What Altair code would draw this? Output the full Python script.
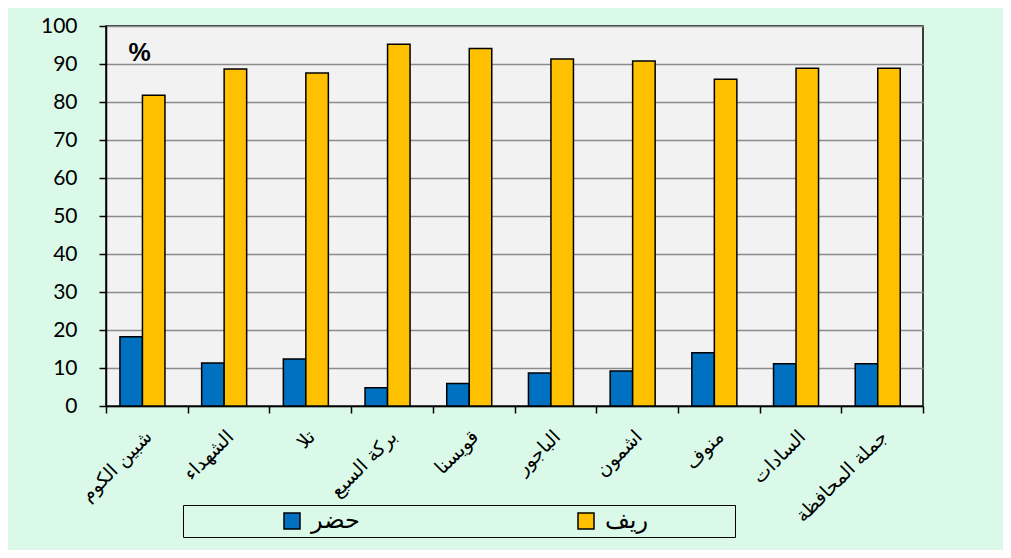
import altair as alt
import pandas as pd

regions = ["شبين الكوم", "الشهداء", "تلا", "بركة السبع", "قويسنا",
           "الباجور", "اشمون", "منوف", "السادات", "جملة المحافظة"]
urban = [18.2, 11.3, 12.4, 4.8, 5.9, 8.7, 9.2, 14.0, 11.1, 11.1]
rural = [81.8, 88.7, 87.6, 95.2, 94.1, 91.3, 90.8, 86.0, 88.9, 88.9]
series = ["حضر", "ريف"]
colors = ["#0070c0", "#ffc000"]
y_ticks = list(range(0, 101, 10))

rows = []
for i, r in enumerate(regions):
    rows.append({"region": r, "type": series[0], "value": urban[i]})
    rows.append({"region": r, "type": series[1], "value": rural[i]})
df = pd.DataFrame(rows)

chart = alt.Chart(df).mark_bar(stroke="black", strokeWidth=1.5).encode(
    x=alt.X("region:N", sort=regions,
            scale=alt.Scale(paddingInner=0, paddingOuter=0),
            axis=alt.Axis(title=None, labelAngle=-45, labelFont="DejaVu Sans",
                          labelFontSize=19, labelColor="black", tickBand="extent",
                          tickSize=7, tickColor="black", tickWidth=1.5,
                          domainColor="black", domainWidth=1.5, labelPadding=14,
                          labelOffset=-5, grid=False)),
    xOffset=alt.XOffset("type:N", sort=series,
                        scale=alt.Scale(paddingInner=0, paddingOuter=0.815, align=0.38)),
    y=alt.Y("value:Q", scale=alt.Scale(domain=[0, 100], nice=False),
            axis=alt.Axis(values=y_ticks, title="%", titleAngle=0, titleX=33, titleY=26,
                          titleAlign="center", titleBaseline="middle",
                          titleFont="Liberation Sans", titleFontSize=25,
                          titleFontWeight="bold", titleColor="black",
                          labelFont="Lato", labelFontSize=21, labelColor="black",
                          labelPadding=22,
                          tickColor="black", tickSize=7, tickWidth=1.5,
                          domainColor="black", domainWidth=1.5,
                          gridColor="#8c8c8c", gridWidth=1.5)),
    color=alt.Color("type:N", sort=series,
                    scale=alt.Scale(domain=series, range=colors),
                    legend=alt.Legend(title=" ", titleOrient="right", titlePadding=83,
                                      titleFontSize=12,
                                      orient="none", legendX=77, legendY=479,
                                      direction="horizontal", strokeColor="black",
                                      padding=4, symbolType="square", symbolSize=256,
                                      symbolStrokeColor="black", symbolStrokeWidth=1.5,
                                      labelFont="DejaVu Sans", labelFontSize=24,
                                      labelColor="black", symbolOffset=93,
                                      labelOffset=7, columnPadding=121)),
).properties(
    width=817, height=380,
    autosize=alt.AutoSizeParams(type="none"),
    padding={"left": 98, "top": 18, "right": 80, "bottom": 144},
    background="#daf9e8",
).configure_view(fill="#f2f2f2", stroke="black", strokeWidth=1.5)

chart.save("out.html", embed_options={"renderer": "svg", "actions": False})
